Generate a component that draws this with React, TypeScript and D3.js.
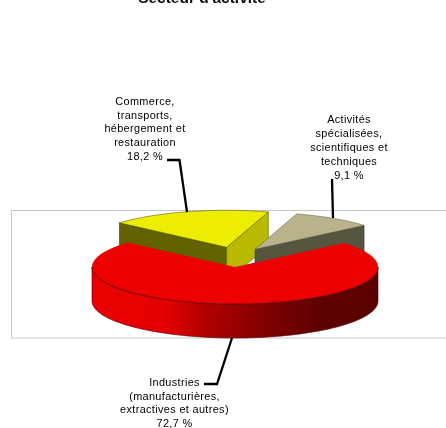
import React from "react";
import * as d3 from "d3";

const title = "Secteur d'activité";
const categories = ["Industries", "Commerce", "Activites"];
const shares = [72.7, 18.2, 9.1];
const shareLabels = ["72,7 %", "18,2 %", "9,1 %"];
const labelLines = [
  ["Industries", "(manufacturières,", "extractives et autres)"],
  ["Commerce,", "transports,", "hébergement et", "restauration"],
  ["Activités", "spécialisées,", "scientifiques et", "techniques"],
];
const topColors = ["#ec0000", "#eced00", "#b9b28c"];
const leftFaceColors = ["#ec0000", "#626200", "#55553f"];
const rightFaceColors = ["#ec0000", "#b9b900", "#55553f"];
const gradientStops: [number, string][] = [
  [0, "#ea0000"],
  [0.26, "#e40000"],
  [0.4, "#b00000"],
  [0.61, "#800000"],
  [0.79, "#5f0000"],
  [1, "#5a0000"],
];

const W = 446, H = 428;
const cx = 235, cy = 267, rx = 143, ry = 37, depth = 34;
const offsets = [[0, 0], [-8.3, -19.7], [20, -17.7]];
const start = (49.7 * Math.PI) / 180;

const pie = d3.pie<number>().sort(null).startAngle(start).endAngle(start + 2 * Math.PI);
const arcs = pie(shares);

const proj = (a: number, i: number, dz = 0): [number, number] => [
  cx + offsets[i][0] + rx * Math.sin(a),
  cy + offsets[i][1] - ry * Math.cos(a) + dz,
];
const apex = (i: number, dz = 0): [number, number] => [cx + offsets[i][0], cy + offsets[i][1] + dz];
const line = d3.line();
const sample = (a0: number, a1: number) => d3.range(0, 121).map((k) => a0 + ((a1 - a0) * k) / 120);

const topPath = (i: number) => {
  const { startAngle: a0, endAngle: a1 } = arcs[i];
  return line([apex(i), ...sample(a0, a1).map((a) => proj(a, i))])! + "Z";
};
const facePath = (i: number, a: number) =>
  line([apex(i), proj(a, i), proj(a, i, depth), apex(i, depth)])! + "Z";
const wallPath = (i: number, a0: number, a1: number) => {
  const upper = sample(a0, a1).map((a) => proj(a, i));
  const lower = sample(a1, a0).map((a) => proj(a, i, depth));
  return line([...upper, ...lower])! + "Z";
};

const leaders: [number, number][][] = [
  [[204, 384], [217, 384], [232, 338]],
  [[167, 160], [179.5, 160], [187, 212]],
  [[332, 179], [333, 218]],
];
const labelAnchors: [number, number, number][] = [
  [174.5, 386, 13.7],
  [145, 105, 13.7],
  [349, 123, 13.9],
];

function Label({ i }: { i: number }) {
  const [x, y, dy] = labelAnchors[i];
  const lines = [...labelLines[i], shareLabels[i]];
  return (
    <text
      x={x}
      y={y}
      textAnchor="middle"
      fontFamily="'Liberation Sans', Arial, sans-serif"
      fontSize={10.9}
      letterSpacing={0.35}
      fill="#000"
    >
      {lines.map((l, k) => (
        <tspan key={l} x={x} y={y + k * dy}>{l}</tspan>
      ))}
    </text>
  );
}

export default function App() {
  const stroke = { strokeWidth: 0.6, strokeLinejoin: "round" as const };
  return (
    <svg
      width={W}
      height={H}
      viewBox={`0 0 ${W} ${H}`}
      style={{ position: "absolute", left: 0, top: 0, background: "#fff" }}
    >
      <defs>
        <linearGradient id="redWall" gradientUnits="userSpaceOnUse" x1={cx - rx} x2={cx + rx} y1={0} y2={0}>
          {gradientStops.map(([o, c]) => (
            <stop key={o} offset={o} stopColor={c} />
          ))}
        </linearGradient>
        <filter id="soft" x="-5%" y="-5%" width="110%" height="110%">
          <feGaussianBlur stdDeviation={0.35} />
        </filter>
      </defs>
      <g filter="url(#soft)">
        <text
          x={202}
          y={3}
          textAnchor="middle"
          fontFamily="'Liberation Sans', Arial, sans-serif"
          fontWeight="bold"
          fontSize={15.5}
          fill="#111"
        >
          {title}
        </text>
        <rect x={11.5} y={210.5} width={470} height={127.5} fill="none" stroke="#c6c6c6" />

        {/* yellow slice */}
        <path d={facePath(1, arcs[1].startAngle)} fill={leftFaceColors[1]} stroke="#3c3c00" {...stroke} />
        <path d={facePath(1, arcs[1].endAngle)} fill={rightFaceColors[1]} stroke="#6a6a00" {...stroke} />
        <path d={topPath(1)} fill={topColors[1]} stroke="#5d5d10" {...stroke} />

        {/* tan slice */}
        <path d={facePath(2, arcs[2].endAngle)} fill={leftFaceColors[2]} stroke="#33332a" {...stroke} />
        <path d={topPath(2)} fill={topColors[2]} stroke="#6a6650" {...stroke} />

        {/* red slice */}
        <path d={wallPath(0, Math.PI / 2, (3 * Math.PI) / 2)} fill="url(#redWall)" stroke="#4a0000" {...stroke} />
        <path d={topPath(0)} fill={topColors[0]} stroke="none" />
        <path
          d={line(sample(Math.PI / 2, (3 * Math.PI) / 2).map((a) => proj(a, 0)))!}
          fill="none"
          stroke="#4a0000"
          {...stroke}
        />

        {leaders.map((pts, i) => (
          <path key={categories[i]} d={line(pts)!} fill="none" stroke="#000" strokeWidth={2.3} />
        ))}
        {categories.map((c, i) => (
          <Label key={c} i={i} />
        ))}
      </g>
    </svg>
  );
}
